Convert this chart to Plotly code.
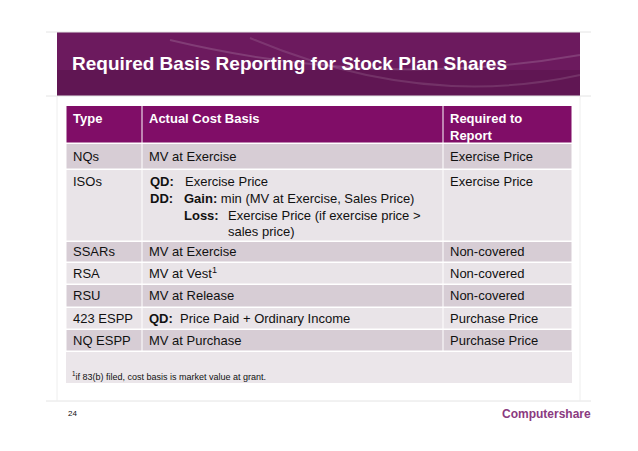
import plotly.graph_objects as go

title = "Required Basis Reporting for Stock Plan Shares"
headers = ["Type", "Actual Cost Basis", "Required to<br>Report"]
types = ["NQs", "ISOs", "SSARs", "RSA", "RSU", "423 ESPP", "NQ ESPP"]
basis = ["MV at Exercise", "", "MV at Exercise", "MV at Vest<sup>1</sup>",
         "MV at Release", "<b>QD:</b>  Price Paid + Ordinary Income", "MV at Purchase"]
required = ["Exercise Price", "Exercise Price", "Non-covered", "Non-covered",
            "Non-covered", "Purchase Price", "Purchase Price"]
# ISO cost basis lines: (x, y, text)
iso_lines = [(148, 181, "<b>QD:</b>"), (183, 181, "Exercise Price"),
             (148, 198, "<b>DD:</b>"), (182, 198, "<b>Gain:</b> min (MV at Exercise, Sales Price)"),
             (182, 215, "<b>Loss:</b>"), (226, 215, "Exercise Price (if exercise price >"),
             (226, 231, "sales price)")]
footnote = "<sup>1</sup>if 83(b) filed, cost basis is market value at grant."
row_edges = [143, 169, 241, 262, 284, 307, 329, 351, 383]
col_edges = [66, 142, 443, 572]

font = "Liberation Sans, Arial, sans-serif"
shapes, ann = [], []

def rect(x0, y0, x1, y1, color, **kw):
    shapes.append(dict(type="rect", x0=x0, y0=y0, x1=x1, y1=y1, fillcolor=color,
                       line=dict(width=0), layer="below", **kw))

def text(x, y, s, size=13, color="#111", yanchor="middle"):
    ann.append(dict(x=x, y=y, text=s, showarrow=False, xanchor="left", yanchor=yanchor,
                    align="left", font=dict(family=font, size=size, color=color)))

# frame lines
for y in [32, 96, 401]:
    shapes.append(dict(type="line", x0=46, x1=591, y0=y, y1=y, line=dict(color="#e4e4e4", width=1)))
for x in [57, 580]:
    shapes.append(dict(type="line", x0=x, x1=x, y0=96, y1=401, line=dict(color="#eeeeee", width=1)))

# banner
rect(57, 32, 580, 96, "#6c1a5e")
rect(57, 70, 580, 96, "rgba(60,10,50,0.25)")
shapes.append(dict(type="path", path="M 170 40 Q 380 90 580 55", line=dict(color="rgba(255,255,255,0.15)", width=2)))
shapes.append(dict(type="path", path="M 250 38 Q 420 110 580 75", line=dict(color="rgba(255,255,255,0.12)", width=2)))
text(70, 63, "<b>" + title + "</b>", size=19, color="white")

# header
for i, h in enumerate(headers):
    rect(col_edges[i] + 0.5, 106, col_edges[i + 1] - 0.5, 142.5, "#800d67")
    text(col_edges[i] + 5, 109, "<b>" + h + "</b>", color="white", yanchor="top")

# body rows
fills = ["#d7cdd5", "#e9e4e8"]
for r in range(len(types)):
    y0, y1 = row_edges[r], row_edges[r + 1]
    for c in range(3):
        rect(col_edges[c] + 0.5, y0 + 1, col_edges[c + 1] - 0.5, y1 - 0.5, fills[r % 2])
    ty = y0 + 12 if types[r] == "ISOs" else (y0 + y1) / 2
    text(col_edges[0] + 5, ty, types[r])
    if basis[r]:
        text(col_edges[1] + 5, ty, basis[r])
    text(col_edges[2] + 5, ty, required[r])
for x, y, s in iso_lines:
    text(x, y, s)

rect(col_edges[0], row_edges[-2] + 1, col_edges[-1], row_edges[-1], "#ebe6ea")
text(70, 376, footnote, size=9)

text(66, 413, "24", size=8)
text(500, 414, "<b>Computershare</b>", size=12, color="#8a3a80")

fig = go.Figure()
# page body has an 8px margin, so shift the ranges to keep coordinates in screen pixels
fig.update_layout(width=638, height=451, margin=dict(l=0, r=0, t=0, b=0),
                  plot_bgcolor="white", paper_bgcolor="white", shapes=shapes, annotations=ann,
                  xaxis=dict(range=[8, 646], visible=False),
                  yaxis=dict(range=[459, 8], visible=False), showlegend=False)
fig.write_html("out.html")
